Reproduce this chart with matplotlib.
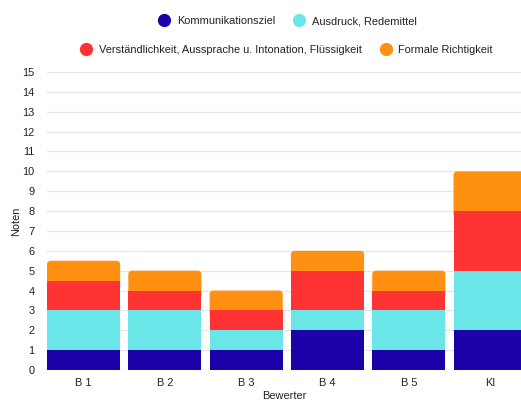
import matplotlib
matplotlib.use("Agg")
import matplotlib.pyplot as plt
from matplotlib.lines import Line2D
from matplotlib.patches import FancyBboxPatch
import numpy as np

categories = ["B 1", "B 2", "B 3", "B 4", "B 5", "KI"]
series_names = ["Kommunikationsziel", "Ausdruck, Redemittel",
                "Verständlichkeit, Aussprache u. Intonation, Flüssigkeit",
                "Formale Richtigkeit"]
kommunikation = [1, 1, 1, 2, 1, 2]
ausdruck = [2, 2, 1, 1, 2, 3]
verstaendlichkeit = [1.5, 1, 1, 2, 1, 3]
formale = [1, 1, 1, 1, 1, 2]
colors = ["#1c00a8", "#6ae5e8", "#ff3333", "#ff9012"]

plt.rcParams['font.family'] = ['Liberation Sans', 'DejaVu Sans']
FS = 7.9
TC = '#222222'

fig = plt.figure(figsize=(5.21, 4.01), dpi=100)
ax = fig.add_axes([47/521, 31/401, 1 - 47/521, (370-72)/401])

x = np.arange(len(categories))
bottom = np.zeros(len(categories))
all_series = [kommunikation, ausdruck, verstaendlichkeit, formale]
for i, (vals, col) in enumerate(zip(all_series, colors)):
    bars = ax.bar(x, vals, bottom=bottom, width=0.9, color=col, edgecolor='none', zorder=3)
    if i == len(all_series) - 1:
        for r in bars:
            bx, by, bw, bh = r.get_x(), r.get_y(), r.get_width(), r.get_height()
            r.set_visible(False)
            p = FancyBboxPatch((bx, by - 0.4), bw, bh + 0.4,
                               boxstyle="round,pad=0,rounding_size=0.05",
                               mutation_aspect=4.0, facecolor=col,
                               edgecolor='none', zorder=2.5)
            ax.add_patch(p)
    bottom += np.array(vals)

ax.set_xlim(-0.45, 5.38)
ax.set_ylim(0, 15)
ax.set_yticks(range(0, 16))
ax.set_xticks(x)
ax.set_xticklabels(categories)
ax.tick_params(axis='both', length=0, labelsize=FS, colors=TC)
ax.tick_params(axis='x', pad=6)
ax.tick_params(axis='y', pad=9)
ax.grid(axis='y', color='#e6e6e6', linewidth=0.9, zorder=0)
for s in ax.spines.values():
    s.set_visible(False)
ax.set_ylabel("Noten", fontsize=FS, color=TC, labelpad=1)
ax.set_xlabel("Bewerter", fontsize=FS, color=TC, labelpad=2)

handles = [Line2D([], [], marker='o', linestyle='none', markersize=8.5,
                  markerfacecolor=c, markeredgecolor=c) for c in colors]
leg1 = fig.legend(handles[:2], series_names[:2], loc='center', ncol=2,
                  bbox_to_anchor=(285/521, 1 - 21/401), frameon=False,
                  fontsize=FS, handletextpad=0.15, columnspacing=1.2)
leg2 = fig.legend(handles[2:], series_names[2:], loc='center', ncol=2,
                  bbox_to_anchor=(284/521, 1 - 50/401), frameon=False,
                  fontsize=FS, handletextpad=0.15, columnspacing=1.2)
for lg in (leg1, leg2):
    for t in lg.get_texts():
        t.set_color(TC)

fig.savefig("out.png", dpi=100)
